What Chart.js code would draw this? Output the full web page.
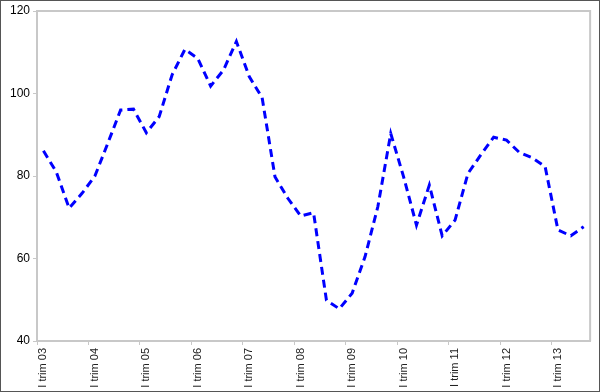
<!DOCTYPE html>
<html>
<head>
<meta charset="utf-8">
<script src="https://cdn.jsdelivr.net/npm/chart.js@4/dist/chart.umd.min.js"></script>
<style>
  html, body { margin: 0; padding: 0; background: #fff; }
  #wrap { width: 600px; height: 392px; position: relative; }
</style>
</head>
<body>
<div id="wrap"><canvas id="lineChart" width="600" height="392"></canvas></div>
<script>
// quarters from I trim 03 to III trim 13
const years = ['03', '04', '05', '06', '07', '08', '09', '10', '11', '12', '13'];
const quarters = ['I', 'II', 'III', 'IV'];
const labels = [];
years.forEach(y => quarters.forEach(q => labels.push(q + ' trim ' + y)));
labels.length = 43;

const values = [
    86.1, 81.0, 72.2, 75.8, 80.0, 87.9, 96.0, 96.2,
    90.5, 94.4, 104.5, 110.7, 108.5, 101.8, 105.7, 112.6,
    104.1, 99.0, 79.8, 74.6, 70.3, 71.1, 49.9, 47.8,
    51.6, 60.4, 72.6, 90.3, 79.8, 68.1, 77.8, 65.5,
    69.3, 80.6, 85.1, 89.4, 88.7, 85.7, 84.4, 82.3,
    66.9, 65.5, 67.7
];

const yMin = 40;
const yMax = 120;
const yStep = 20;

// frame around the plot area and around the picture
const framePlugin = {
    id: 'frame',
    afterDraw(chart) {
        const { ctx, chartArea: a } = chart;
        ctx.save();
        ctx.strokeStyle = '#c8c8c8';
        ctx.lineWidth = 2;
        ctx.beginPath();
        ctx.moveTo(a.left, a.top);
        ctx.lineTo(a.right, a.top);
        ctx.lineTo(a.right, a.bottom);
        ctx.stroke();
        ctx.strokeStyle = '#555';
        ctx.lineWidth = 2;
        ctx.strokeRect(0, 0, chart.width, chart.height);
        ctx.restore();
    }
};

const ctx = document.getElementById('lineChart').getContext('2d');
new Chart(ctx, {
    type: 'line',
    data: {
        labels: labels,
        datasets: [{
            data: values,
            borderColor: '#0000ff',
            borderWidth: 3,
            borderDash: [8, 5],
            pointRadius: 0,
            tension: 0,
            fill: false
        }]
    },
    options: {
        responsive: false,
        animation: false,
        layout: { padding: { top: 11, right: 9, left: 0, bottom: 0 } },
        plugins: { legend: { display: false }, tooltip: { enabled: false } },
        scales: {
            x: {
                offset: true,
                afterFit(scale) { scale.height = 51; },
                border: { color: '#c8c8c8', width: 2 },
                grid: {
                    offset: true,
                    drawOnChartArea: false,
                    tickLength: 4,
                    color: c => (c.index % 4 === 0 ? '#c8c8c8' : 'rgba(0,0,0,0)')
                },
                ticks: {
                    autoSkip: false,
                    minRotation: 90,
                    maxRotation: 90,
                    padding: 3,
                    color: '#222',
                    font: { family: 'Liberation Sans', size: 11 },
                    callback: (v, i) => (i % 4 === 0 ? labels[i] : '')
                }
            },
            y: {
                min: yMin,
                max: yMax,
                afterFit(scale) { scale.width = 37; },
                border: { color: '#c8c8c8', width: 2 },
                grid: { drawOnChartArea: false, tickLength: 4, color: '#c8c8c8' },
                ticks: {
                    stepSize: yStep,
                    padding: 3,
                    color: '#000',
                    font: { family: 'Liberation Sans', size: 12 }
                }
            }
        }
    },
    plugins: [framePlugin]
});
</script>
</body>
</html>
